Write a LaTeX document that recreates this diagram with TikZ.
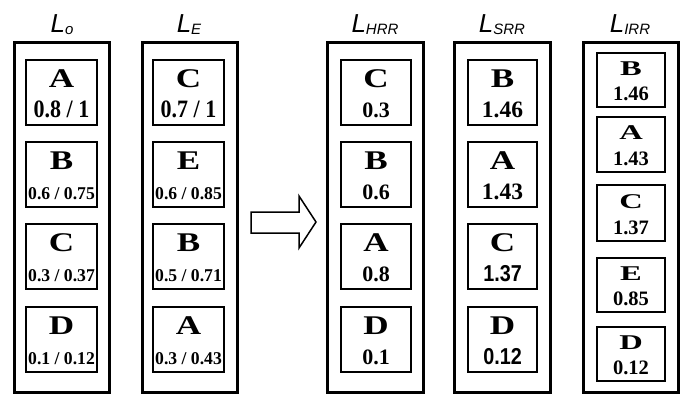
\documentclass[tikz,border=0pt]{standalone}
\usepackage{fontspec}
\setmainfont{Liberation Serif}
\newfontfamily\titlefam{Liberation Sans}
\newfontfamily\numsans{Liberation Sans}
\usepackage{graphicx}

% title: italic sans L with a lowered subscript
\newcommand\listtitle[1]{{\titlefam\itshape\fontsize{26}{26}\selectfont L\raisebox{-2pt}{\fontsize{15}{15}\selectfont #1}}}

% one entry box: #1 name, #2 centre x, #3 top y, #4 height, #5 width,
% #6 letter (with font), #7 value (with font)
\newcommand\entry[7]{%
  \node[item, minimum height=#4pt, minimum width=#5pt] (#1) at (#2,#3+#4/2) {};
  \path (#1.north) ++(0,#4*0.43) node[anchor=base, inner sep=0] (#1-l) {#6};
  \path (#1.north) ++(0,#4*0.89) node[anchor=base, inner sep=0] (#1-v) {#7};
}
\newcommand\bigL[1]{\scalebox{1.3}[1]{\bfseries\fontsize{27}{27}\selectfont #1}}
\newcommand\smallL[1]{\scalebox{1.55}[1]{\bfseries\fontsize{21}{21}\selectfont #1}}
\newcommand\val[3]{\scalebox{#2}[1]{\bfseries\fontsize{#1}{#1}\selectfont #3}}
\newcommand\valsans[3]{\scalebox{#2}[1]{\numsans\bfseries\fontsize{#1}{#1}\selectfont #3}}

\begin{document}
\begin{tikzpicture}[x=1pt, y=-1pt,
  outer/.style={draw, line width=3pt},
  item/.style={draw, line width=1.6pt, inner sep=0},
  heading/.style={anchor=base, inner sep=0}]
\useasboundingbox (0,0) rectangle (687,394);

% list frames
\draw[outer] (14,42) rectangle (109,392);
\draw[outer] (142,42) rectangle (237,392);
\draw[outer] (327,42) rectangle (423,392);
\draw[outer] (454,42) rectangle (550,392);
\draw[outer] (583,42) rectangle (678,392);

% list headings
\node[heading] (tO) at (62,32) {\listtitle{o}};
\node[heading] (tE) at (189,32) {\listtitle{E}};
\node[heading] (tH) at (375,32) {\listtitle{HRR}};
\node[heading] (tS) at (502,32) {\listtitle{SRR}};
\node[heading] (tI) at (630,32) {\listtitle{IRR}};

% L_o
\entry{o1}{61.5}{60}{65}{71}{\bigL{A}}{\val{25}{0.88}{0.8 / 1}}
\entry{o2}{61.5}{142}{65}{71}{\bigL{B}}{\val{18}{0.98}{0.6 / 0.75}}
\entry{o3}{61.5}{224}{65}{71}{\bigL{C}}{\val{18}{0.98}{0.3 / 0.37}}
\entry{o4}{61.5}{307}{65}{71}{\bigL{D}}{\val{18}{0.98}{0.1 / 0.12}}

% L_E
\entry{e1}{188.5}{60}{65}{71}{\bigL{C}}{\val{25}{0.88}{0.7 / 1}}
\entry{e2}{188.5}{142}{65}{71}{\bigL{E}}{\val{18}{0.98}{0.6 / 0.85}}
\entry{e3}{188.5}{224}{65}{71}{\bigL{B}}{\val{18}{0.98}{0.5 / 0.71}}
\entry{e4}{188.5}{307}{65}{71}{\bigL{A}}{\val{18}{0.98}{0.3 / 0.43}}

% L_HRR
\entry{h1}{376}{60}{65}{70}{\bigL{C}}{\val{22}{1}{0.3}}
\entry{h2}{376}{142}{65}{70}{\bigL{B}}{\val{22}{1}{0.6}}
\entry{h3}{376}{224}{65}{70}{\bigL{A}}{\val{22}{1}{0.8}}
\entry{h4}{376}{307}{65}{70}{\bigL{D}}{\val{22}{1}{0.1}}

% L_SRR
\entry{s1}{502.5}{60}{65}{69}{\bigL{B}}{\val{23.5}{1}{1.46}}
\entry{s2}{502.5}{142}{65}{69}{\bigL{A}}{\val{23.5}{1}{1.43}}
\entry{s3}{502.5}{224}{65}{69}{\bigL{C}}{\valsans{23}{0.86}{1.37}}
\entry{s4}{502.5}{307}{65}{69}{\bigL{D}}{\valsans{23}{0.86}{0.12}}

% L_IRR
\entry{i1}{631}{53}{54}{68}{\smallL{B}}{\val{20.5}{1}{1.46}}
\entry{i2}{631}{117}{55}{68}{\smallL{A}}{\val{20.5}{1}{1.43}}
\entry{i3}{631}{185}{56}{68}{\smallL{C}}{\val{20.5}{1}{1.37}}
\entry{i4}{631}{258}{54}{68}{\smallL{E}}{\val{20.5}{1}{0.85}}
\entry{i5}{631}{327}{54}{68}{\smallL{D}}{\val{20.5}{1}{0.12}}

% block arrow between the input and output lists
\draw[line width=1.5pt, fill=white, line join=miter]
  (251,212) -- (299,212) -- (299,196) -- (316,222) -- (299,248) -- (299,233) -- (251,233) -- cycle;
\end{tikzpicture}
\end{document}
